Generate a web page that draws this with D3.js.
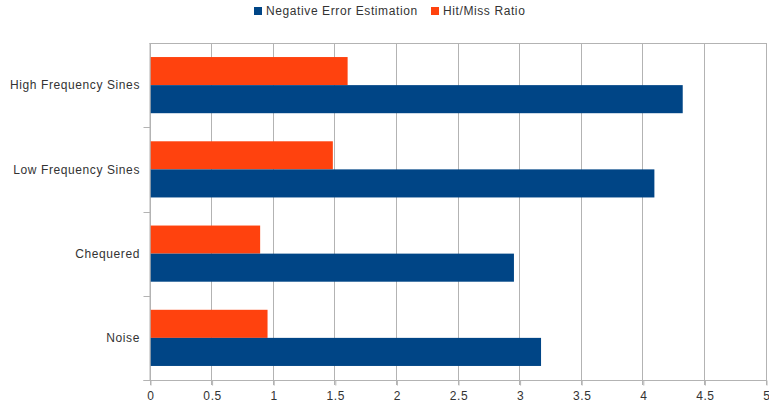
<!DOCTYPE html>
<html>
<head>
<meta charset="utf-8">
<script src="https://cdn.jsdelivr.net/npm/d3@7/dist/d3.min.js"></script>
<style>
  html, body { margin: 0; padding: 0; background: #fff; }
  svg { display: block; font-family: "Liberation Sans", Arial, sans-serif; }
  text { letter-spacing: 0.6px; }
</style>
</head>
<body>
<svg id="chart" width="769" height="408"></svg>
<script>
// Test patterns, top to bottom
const categories = ["High Frequency Sines", "Low Frequency Sines", "Chequered", "Noise"];
const seriesNames = ["Hit/Miss Ratio", "Negative Error Estimation"];
const hitMissRatio = [1.6, 1.48, 0.89, 0.95];
const negativeErrorEstimation = [4.32, 4.09, 2.95, 3.17];
const xTicks = [0, 0.5, 1, 1.5, 2, 2.5, 3, 3.5, 4, 4.5, 5];
const legendOrder = ["Negative Error Estimation", "Hit/Miss Ratio"];

const colors = {
  "Negative Error Estimation": "#004586",
  "Hit/Miss Ratio": "#ff420e"
};
const valuesBySeries = {
  "Hit/Miss Ratio": hitMissRatio,
  "Negative Error Estimation": negativeErrorEstimation
};

const svg = d3.select("#chart");
const plotLeft = 150.5, plotRight = 766.5, plotTop = 43, plotBottom = 380;

const x = d3.scaleLinear().domain([0, 5]).range([plotLeft, plotRight]);
const y = d3.scaleBand().domain(categories).range([plotTop, plotBottom]).padding(0);
const bw = y.bandwidth();
const ySub = d3.scaleBand().domain(seriesNames).range([bw / 6, bw * 5 / 6]).padding(0);

const gridColor = "#b3b3b3";

// vertical gridlines
svg.append("g")
  .selectAll("line")
  .data(xTicks)
  .join("line")
  .attr("x1", d => Math.round(x(d)) - 0.5)
  .attr("x2", d => Math.round(x(d)) - 0.5)
  .attr("y1", plotTop)
  .attr("y2", plotBottom + 5)
  .attr("stroke", gridColor)
  .attr("stroke-width", 1);

// top border
svg.append("line")
  .attr("x1", plotLeft - 1).attr("x2", plotRight)
  .attr("y1", plotTop + 0.5).attr("y2", plotTop + 0.5)
  .attr("stroke", gridColor);

// bars
const groups = svg.append("g")
  .selectAll("g")
  .data(categories)
  .join("g")
  .attr("transform", d => `translate(0,${y(d)})`);

groups.selectAll("rect")
  .data((c, i) => seriesNames.map(s => ({ s, v: valuesBySeries[s][i] })))
  .join("rect")
  .attr("x", x(0))
  .attr("y", d => ySub(d.s))
  .attr("width", d => x(d.v) - x(0))
  .attr("height", ySub.bandwidth())
  .attr("fill", d => colors[d.s]);

// left axis: line plus small ticks at category boundaries
const leftAxis = svg.append("g");
leftAxis.append("line")
  .attr("x1", plotLeft - 0.5).attr("x2", plotLeft - 0.5)
  .attr("y1", plotTop).attr("y2", plotBottom)
  .attr("stroke", gridColor);
leftAxis.selectAll("line.tick")
  .data(categories.slice(1).map(c => y(c)).concat([plotBottom]))
  .join("line")
  .attr("class", "tick")
  .attr("x1", plotLeft - 7).attr("x2", plotLeft)
  .attr("y1", d => Math.round(d) + 0.5)
  .attr("y2", d => Math.round(d) + 0.5)
  .attr("stroke", gridColor);

// category labels
leftAxis.selectAll("text")
  .data(categories)
  .join("text")
  .attr("x", 140)
  .attr("y", d => y(d) + bw / 2)
  .attr("dy", "0.35em")
  .attr("text-anchor", "end")
  .attr("font-size", 12)
  .attr("fill", "#333")
  .text(d => d);

// bottom axis
const xAxis = d3.axisBottom(x)
  .tickValues(xTicks)
  .tickSize(5)
  .tickPadding(6)
  .tickFormat(d3.format("~g"));
const gx = svg.append("g")
  .attr("transform", `translate(0,${plotBottom + 0.5})`)
  .call(xAxis);
gx.select(".domain")
  .attr("d", `M${plotLeft - 7},0H${plotRight}`)
  .attr("stroke", gridColor);
gx.selectAll(".tick line").attr("stroke", gridColor);
gx.selectAll(".tick text")
  .attr("font-size", 12)
  .attr("font-family", "Liberation Sans, Arial, sans-serif")
  .attr("fill", "#333");

// legend
const legend = svg.append("g").attr("transform", "translate(254,7)");
const items = legend.selectAll("g")
  .data(legendOrder)
  .join("g")
  .attr("transform", (d, i) => `translate(${i === 0 ? 0 : 177},0)`);
items.append("rect")
  .attr("width", 8).attr("height", 8)
  .attr("fill", d => colors[d]);
items.append("text")
  .attr("x", 12)
  .attr("y", 4)
  .attr("dy", "0.35em")
  .attr("font-size", 12)
  .attr("fill", "#333")
  .text(d => d);
</script>
</body>
</html>
